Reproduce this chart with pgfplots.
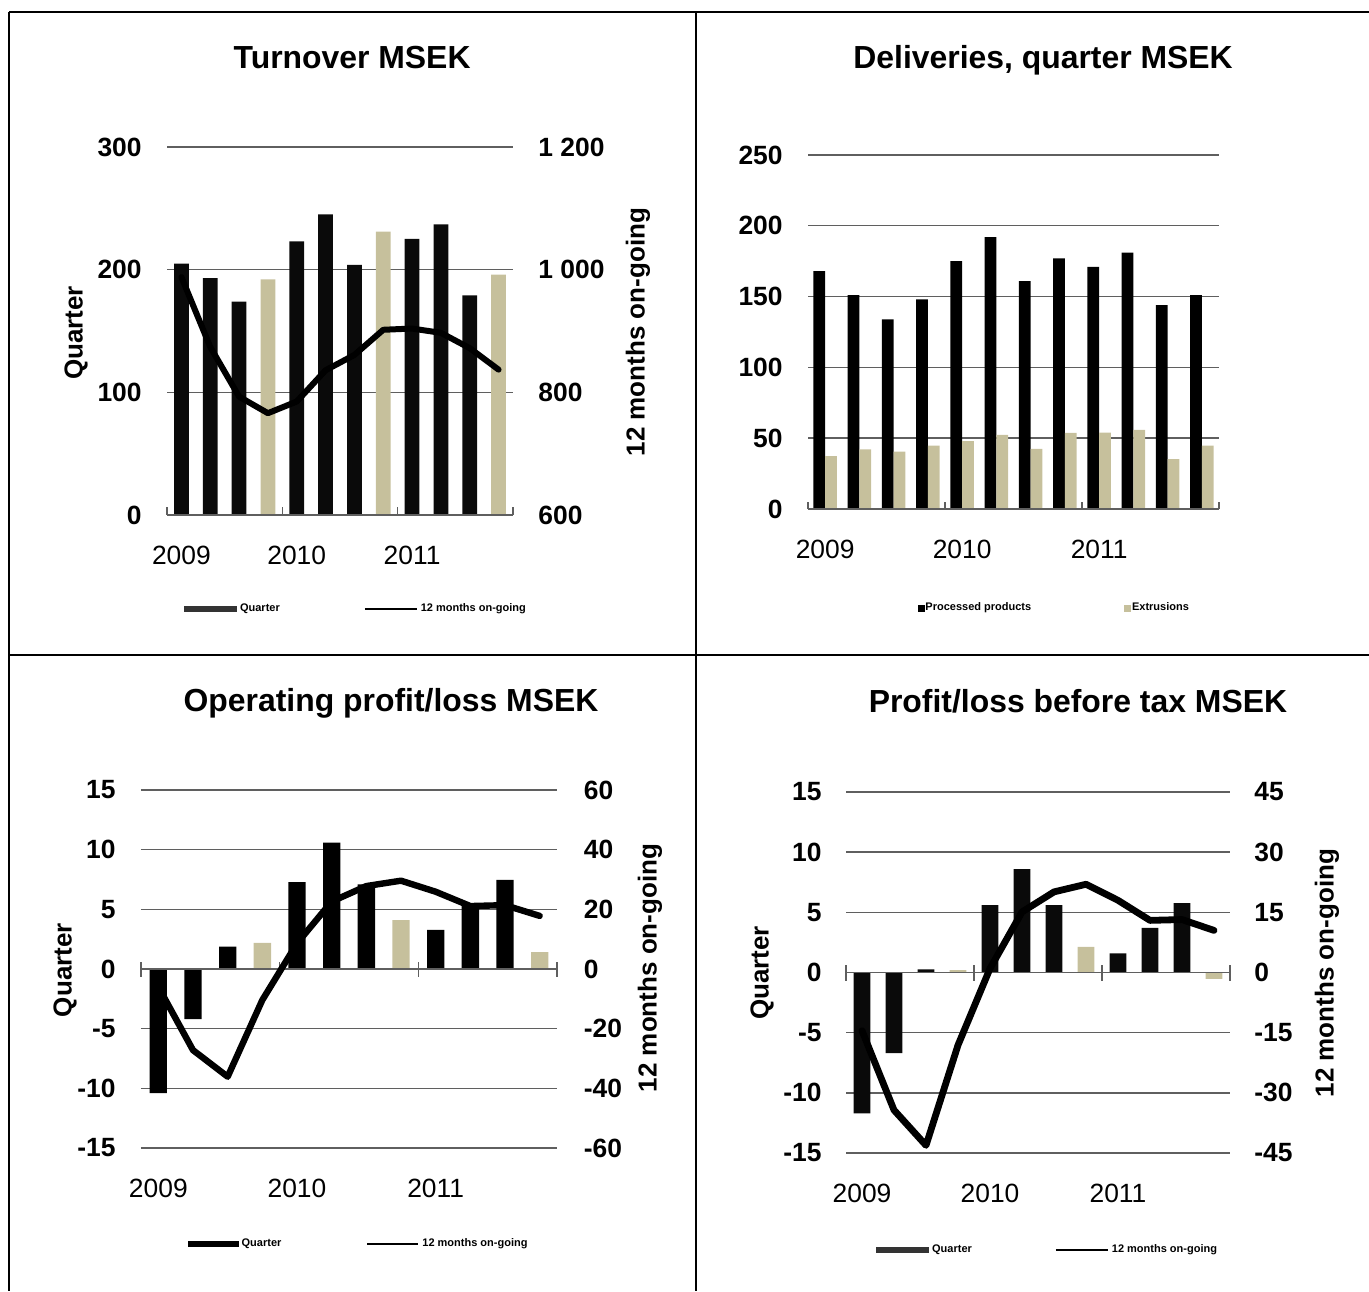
\documentclass[border=0pt]{standalone}
\usepackage{pgfplots}
\pgfplotsset{compat=1.18}
\usepackage{fontspec}
\setmainfont{Liberation Sans}
\definecolor{tanc}{RGB}{198,192,156}
\definecolor{gridc}{RGB}{95,95,95}
\newcommand\tickf{\fontsize{13.2pt}{15pt}\selectfont}
\newcommand\labf{\fontsize{13pt}{15pt}\selectfont\bfseries}
\newcommand\titf{\fontsize{15.95pt}{18pt}\selectfont\bfseries}
\newcommand\legf{\fontsize{5.5pt}{6.5pt}\selectfont\bfseries}
\pgfplotsset{
  base/.style={scale only axis, anchor=south west, xmin=-0.5, xmax=11.5},
  leftax/.style={base, axis line style={draw=none}, tick style={draw=none},
    xtick pos=left, ytick pos=left, ymajorgrids,
    grid style={gridc, line width=0.7pt},
    xtick={0,4,8}, xticklabels={2009,2010,2011},
    xticklabel style={font=\tickf, inner sep=0pt, anchor=center, yshift=-20pt},
    yticklabel style={font=\tickf\bfseries, inner sep=0pt, anchor=east, xshift=-12.5pt}},
  rightax/.style={base, axis y line=right, y axis line style={draw=none}, ytick style={draw=none},
    xtick={-0.5,3.5,7.5,11.5}, xticklabels={},
    xtick style={draw=gridc, line width=0.7pt},
    hide obscured x ticks=false, hide obscured y ticks=false,
    yticklabel style={font=\tickf\bfseries, inner sep=0pt, anchor=west, xshift=12.5pt}},
  noarrow/.style={x axis line style={-, draw=gridc, line width=0.7pt}, y axis line style={-, draw=none}},
  leg/.style={legend style={draw=none, fill=none, inner sep=0pt, font=\legf,
    nodes={inner xsep=1.5pt, inner ysep=0.5pt}, cells={anchor=west}}, legend columns=2},
}
\begin{document}
\begin{tikzpicture}
\useasboundingbox (0,0) rectangle (684.5pt,645.5pt);
% table frame
\draw[black, line width=1pt] (4.5pt,639.5pt) -- (684.5pt,639.5pt);
\draw[black, line width=1pt] (4.5pt,639.5pt) -- (4.5pt,0pt);
\draw[black, line width=1pt] (348pt,639.5pt) -- (348pt,0pt);
\draw[black, line width=1pt] (4.5pt,318pt) -- (684.5pt,318pt);

% ===== Panel 1: Turnover =====
\begin{axis}[leftax, at={(83.5pt,388pt)}, width=173pt, height=184pt,
  ymin=0, ymax=300, ytick={0,100,200,300}, yticklabels={0,100,200,300},
  ylabel={Quarter},
  every axis y label/.style={font=\labf, at={(axis description cs:-0.263,0.4946)}, anchor=center, rotate=90},
  title={Turnover MSEK},
  every axis title/.style={font=\titf, at={(axis description cs:0.535,1.212)}, anchor=base}]
\addplot[ybar, bar width=0.51, bar shift=0pt, fill=black!96, draw=none]
  coordinates {(0,205) (1,193) (2,174) (4,223) (5,245) (6,204) (8,225) (9,237) (10,179)};
\addplot[ybar, bar width=0.51, bar shift=0pt, fill=tanc, draw=none]
  coordinates {(3,192) (7,231) (11,196)};
\end{axis}
\begin{axis}[rightax, at={(83.5pt,388pt)}, width=173pt, height=184pt,
  axis x line=bottom, noarrow, tick align=inside, major tick length=4pt,
  ymin=600, ymax=1200, ytick={600,800,1000,1200}, yticklabels={600,800,1 000,1 200},
  ylabel={12 months on-going},
  every axis y label/.style={font=\labf, at={(axis description cs:1.361,0.497)}, anchor=center, rotate=90},
  leg, legend style={at={(axis description cs:0.548,-0.255)}, anchor=center,
    /tikz/every even column/.append style={column sep=40.5pt}}]
\addlegendimage{legend image code/.code={\fill[black!80] (0pt,-1.1pt) rectangle (26pt,1.1pt);}}
\addlegendentry{Quarter}
\addlegendimage{legend image code/.code={\draw[black, line width=1pt] (0pt,0pt) -- (26pt,0pt);}}
\addlegendentry{12 months on-going}
\addplot[black, line width=3pt, line join=round, line cap=round, forget plot]
  coordinates {(0,988) (1,874) (2,793) (3,766) (4,785) (5,836) (6,861) (7,902) (8,904) (9,897) (10,872) (11,837)};
\end{axis}

% ===== Panel 2: Deliveries =====
\begin{axis}[leftax, at={(404pt,391pt)}, width=205.5pt, height=177pt,
  ymin=0, ymax=250, ytick={0,50,100,150,200,250}, yticklabels={0,50,100,150,200,250},
  title={Deliveries, quarter MSEK},
  every axis title/.style={font=\titf, at={(axis description cs:0.572,1.243)}, anchor=base},
  leg, legend style={at={(axis description cs:0.598,-0.28)}, anchor=center,
    nodes={inner xsep=0.5pt},
    /tikz/every even column/.append style={column sep=46pt}}]
\addplot[ybar, bar width=0.34, bar shift=-0.17, fill=black, draw=none, forget plot]
  coordinates {(0,168) (1,151) (2,134) (3,148) (4,175) (5,192) (6,161) (7,177) (8,171) (9,181) (10,144) (11,151)};
\addplot[ybar, bar width=0.34, bar shift=0.17, fill=tanc, draw=none, forget plot]
  coordinates {(0,37.4) (1,42.1) (2,40.5) (3,44.7) (4,48) (5,52.3) (6,42.4) (7,53.7) (8,53.9) (9,55.8) (10,35.3) (11,44.7)};
\addlegendimage{legend image code/.code={\fill[black] (0pt,-1.5pt) rectangle (3pt,1.5pt);}}
\addlegendentry{Processed products}
\addlegendimage{legend image code/.code={\fill[tanc] (0pt,-1.5pt) rectangle (3pt,1.5pt);}}
\addlegendentry{Extrusions}
\end{axis}
\begin{axis}[rightax, at={(404pt,391pt)}, width=205.5pt, height=177pt,
  axis x line=bottom, axis y line=none, noarrow, tick align=inside, major tick length=3.5pt,
  ymin=0, ymax=250, ytick=\empty]
\end{axis}

% ===== Panel 3: Operating profit/loss =====
\begin{axis}[leftax, at={(70.5pt,71.5pt)}, width=208pt, height=179pt,
  ymin=-15, ymax=15, ytick={-15,-10,-5,0,5,10,15}, yticklabels={-15,-10,-5,0,5,10,15},
  ylabel={Quarter},
  every axis y label/.style={font=\labf, at={(axis description cs:-0.1827,0.497)}, anchor=center, rotate=90},
  title={Operating profit/loss MSEK},
  every axis title/.style={font=\titf, at={(axis description cs:0.601,1.218)}, anchor=base}]
\addplot[ybar, bar width=0.5, bar shift=0pt, fill=black, draw=none]
  coordinates {(0,-10.4) (1,-4.2) (2,1.87) (4,7.27) (5,10.6) (6,7.1) (8,3.27) (9,5.45) (10,7.46)};
\addplot[ybar, bar width=0.5, bar shift=0pt, fill=tanc, draw=none]
  coordinates {(3,2.18) (7,4.1) (11,1.42)};
\end{axis}
\begin{axis}[rightax, at={(70.5pt,71.5pt)}, width=208pt, height=179pt,
  axis x line=middle, noarrow, tick align=center, major tick length=7.5pt,
  ymin=-60, ymax=60, ytick={-60,-40,-20,0,20,40,60}, yticklabels={-60,-40,-20,0,20,40,60},
  yticklabel style={xshift=-3pt},
  ylabel={12 months on-going},
  every axis y label/.style={font=\labf, at={(axis description cs:1.2236,0.503)}, anchor=center, rotate=90},
  leg, legend style={at={(axis description cs:0.5245,-0.268)}, anchor=center,
    /tikz/every even column/.append style={column sep=41pt}}]
\addlegendimage{legend image code/.code={\fill[black] (0pt,-1.2pt) rectangle (25pt,1.2pt);}}
\addlegendentry{Quarter}
\addlegendimage{legend image code/.code={\draw[black, line width=1pt] (0pt,0pt) -- (25.5pt,0pt);}}
\addlegendentry{12 months on-going}
\addplot[black, line width=3.2pt, line join=round, line cap=round, forget plot]
  coordinates {(0,-6) (1,-27.2) (2,-36.1) (3,-10.4) (4,8.6) (5,22.6) (6,27.8) (7,29.6) (8,25.9) (9,21.1) (10,21.4) (11,17.8)};
\end{axis}

% ===== Panel 4: Profit/loss before tax =====
\begin{axis}[leftax, at={(423pt,69pt)}, width=192pt, height=180.5pt,
  ymin=-15, ymax=15, ytick={-15,-10,-5,0,5,10,15}, yticklabels={-15,-10,-5,0,5,10,15},
  yticklabel style={xshift=0.5pt},
  ylabel={Quarter},
  every axis y label/.style={font=\labf, at={(axis description cs:-0.21875,0.4986)}, anchor=center, rotate=90},
  title={Profit/loss before tax MSEK},
  every axis title/.style={font=\titf, at={(axis description cs:0.604,1.2216)}, anchor=base}]
\addplot[ybar, bar width=0.52, bar shift=0pt, fill=black!96, draw=none]
  coordinates {(0,-11.7) (1,-6.7) (2,0.27) (4,5.6) (5,8.6) (6,5.6) (8,1.6) (9,3.7) (10,5.76)};
\addplot[ybar, bar width=0.52, bar shift=0pt, fill=tanc, draw=none]
  coordinates {(3,0.19) (7,2.13) (11,-0.53)};
\end{axis}
\begin{axis}[rightax, at={(423pt,69pt)}, width=192pt, height=180.5pt,
  axis x line=middle, noarrow, tick align=center, major tick length=8pt,
  ymin=-45, ymax=45, ytick={-45,-30,-15,0,15,30,45}, yticklabels={-45,-30,-15,0,15,30,45},
  yticklabel style={xshift=-4.5pt},
  ylabel={12 months on-going},
  every axis y label/.style={font=\labf, at={(axis description cs:1.2526,0.4986)}, anchor=center, rotate=90},
  leg, legend style={at={(axis description cs:0.5265,-0.268)}, anchor=center,
    /tikz/every even column/.append style={column sep=40pt}}]
\addlegendimage{legend image code/.code={\fill[black!80] (0pt,-1.1pt) rectangle (26pt,1.1pt);}}
\addlegendentry{Quarter}
\addlegendimage{legend image code/.code={\draw[black, line width=1pt] (0pt,0pt) -- (26pt,0pt);}}
\addlegendentry{12 months on-going}
\addplot[black, line width=3.4pt, line join=round, line cap=round, forget plot]
  coordinates {(0,-14.5) (1,-34.3) (2,-43.1) (3,-18.1) (4,1.0) (5,15.1) (6,20.1) (7,22.0) (8,18.0) (9,13.0) (10,13.2) (11,10.5)};
\end{axis}
\end{tikzpicture}
\end{document}
